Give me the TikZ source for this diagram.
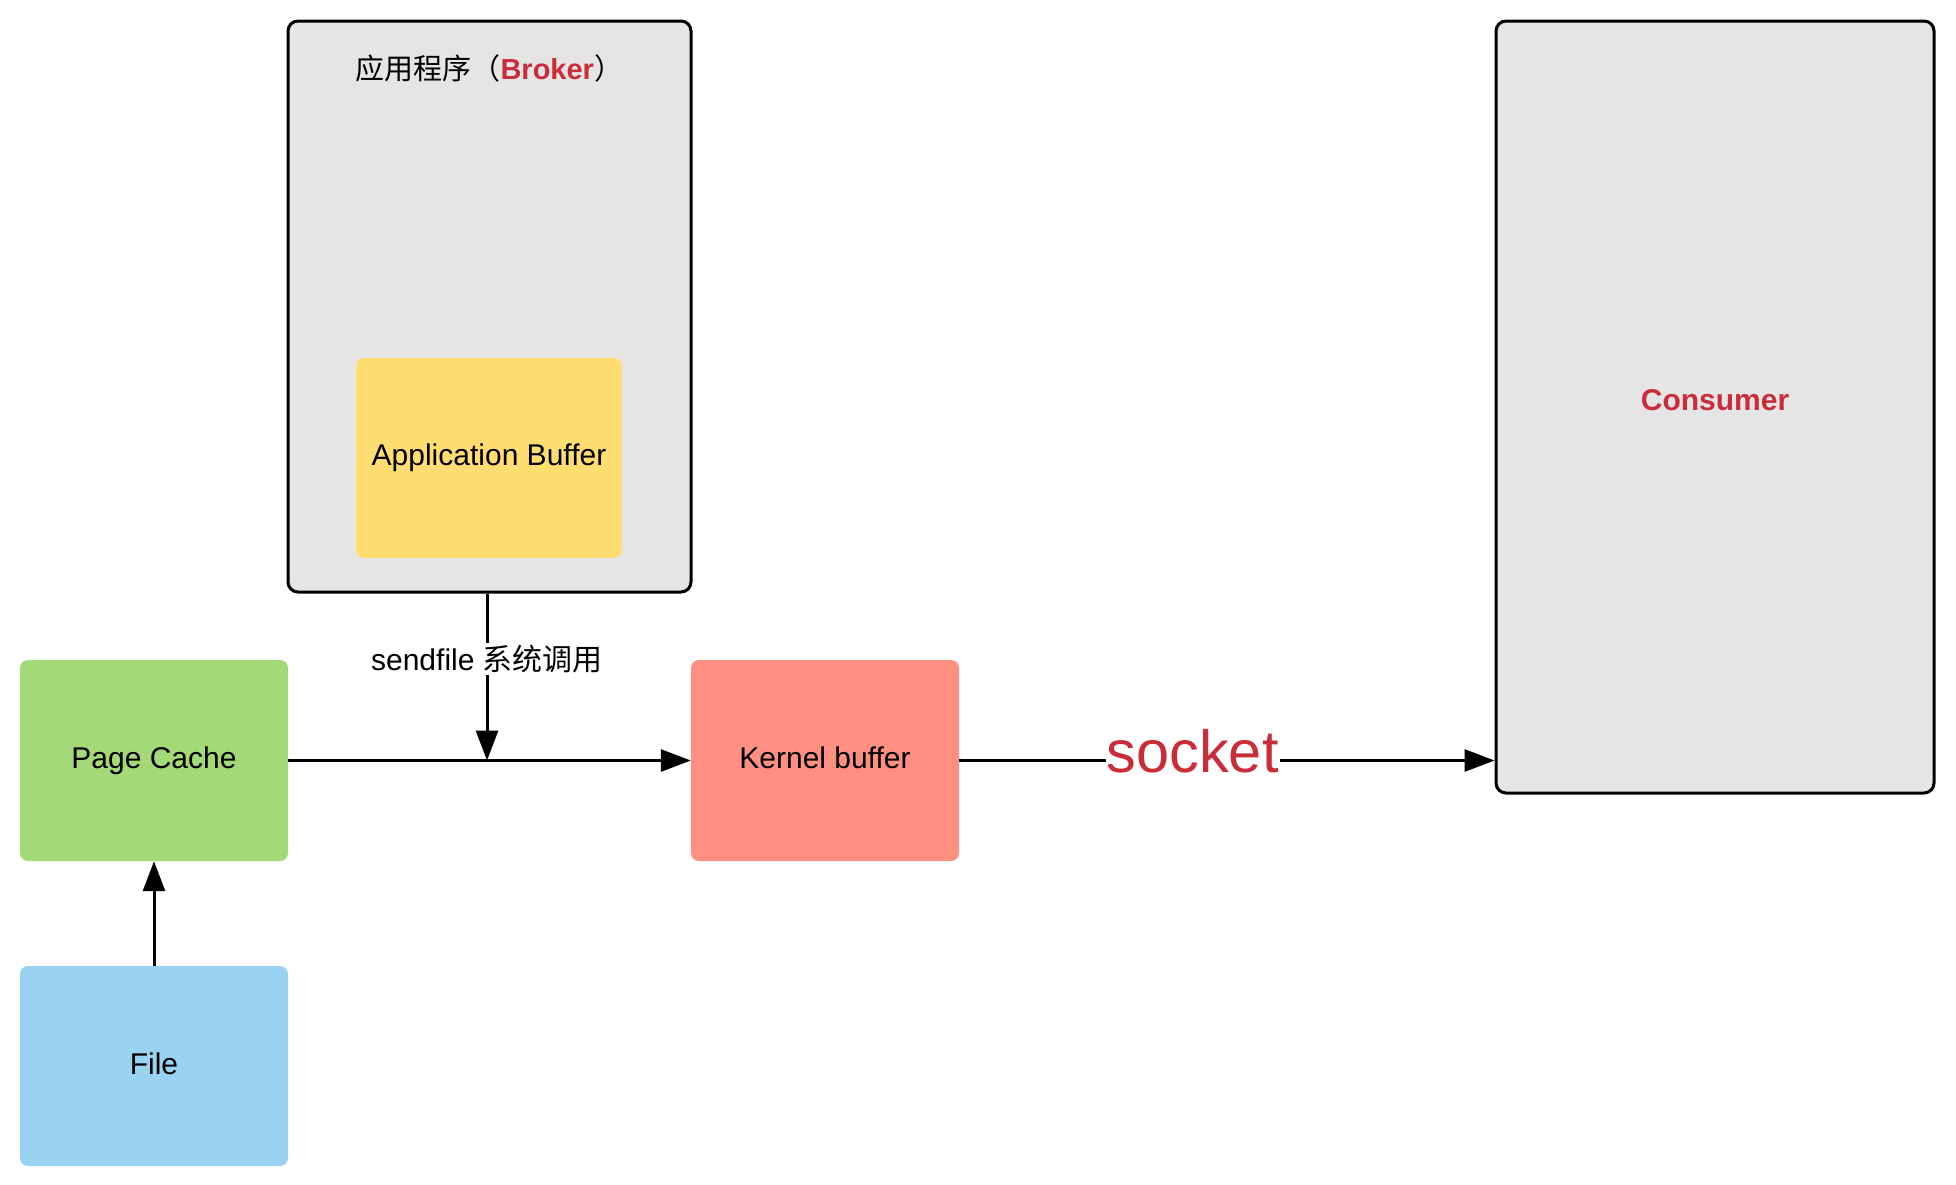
\documentclass[tikz,border=0pt]{standalone}
\usepackage{fontspec}
\setmainfont{Liberation Sans}
\newfontfamily\cjk{Noto Sans CJK SC}
\usetikzlibrary{arrows.meta}
\definecolor{framegray}{HTML}{E5E5E5}
\definecolor{bufyellow}{HTML}{FFDD71}
\definecolor{pcgreen}{HTML}{A3D977}
\definecolor{kbred}{HTML}{FF8F80}
\definecolor{fileblue}{HTML}{9AD2F2}
\definecolor{txtred}{HTML}{C92D39}
\newcommand{\upt}[1]{\raisebox{5.5pt}{#1}}
\begin{document}
\begin{tikzpicture}[x=1pt,y=-1pt,
  box/.style={rectangle, rounded corners=8pt, minimum width=268pt, minimum height=200pt, inner sep=0pt, font=\fontsize{30}{36}\selectfont},
  frame/.style={rectangle, draw=black, line width=3pt, fill=framegray, rounded corners=10pt, inner sep=0pt},
  arr/.style={line width=3pt, -{Triangle[length=30pt,width=22pt]}},
  lbl/.style={fill=white, inner sep=2pt}]
\useasboundingbox (0,0) rectangle (1956,1184);
\node[frame, minimum width=403pt, minimum height=571pt] (broker) at (489.5,306.5) {};
\node[anchor=west, font=\fontsize{29}{35}\selectfont] (title) at (352,68) {{\cjk 应用程序（}\textcolor{txtred}{\textbf{Broker}}{\cjk ）}};
\node[box, fill=bufyellow, minimum width=266pt] (buf) at (489,458) {\upt{Application Buffer}};
\node[frame, minimum width=438pt, minimum height=772pt, font=\fontsize{30}{36}\selectfont\bfseries, text=txtred] (consumer) at (1715,407) {\raisebox{14pt}{Consumer}};
\node[box, fill=pcgreen, minimum height=201pt] (pc) at (154,760.5) {\upt{Page Cache}};
\node[box, fill=kbred, minimum height=201pt] (kb) at (825,760.5) {\upt{Kernel buffer}};
\node[box, fill=fileblue] (file) at (154,1066) {\upt{File}};
\draw[arr] (file.north) -- (pc.south);
\draw[arr] (pc.east) -- (kb.west);
\coordinate (join) at (pc.east -| 487,0);
\draw[arr] (broker.south -| join) -- node[lbl, pos=0.39, font=\fontsize{30}{36}\selectfont] (sf) {sendfile {\cjk 系统调用}} (join);
\draw[arr] (kb.east) -- node[lbl, pos=0.436, yshift=9pt, inner sep=1pt, text=txtred, font=\fontsize{59.5}{70}\selectfont] (sock) {socket} (consumer.west |- kb.east);
\end{tikzpicture}
\end{document}
